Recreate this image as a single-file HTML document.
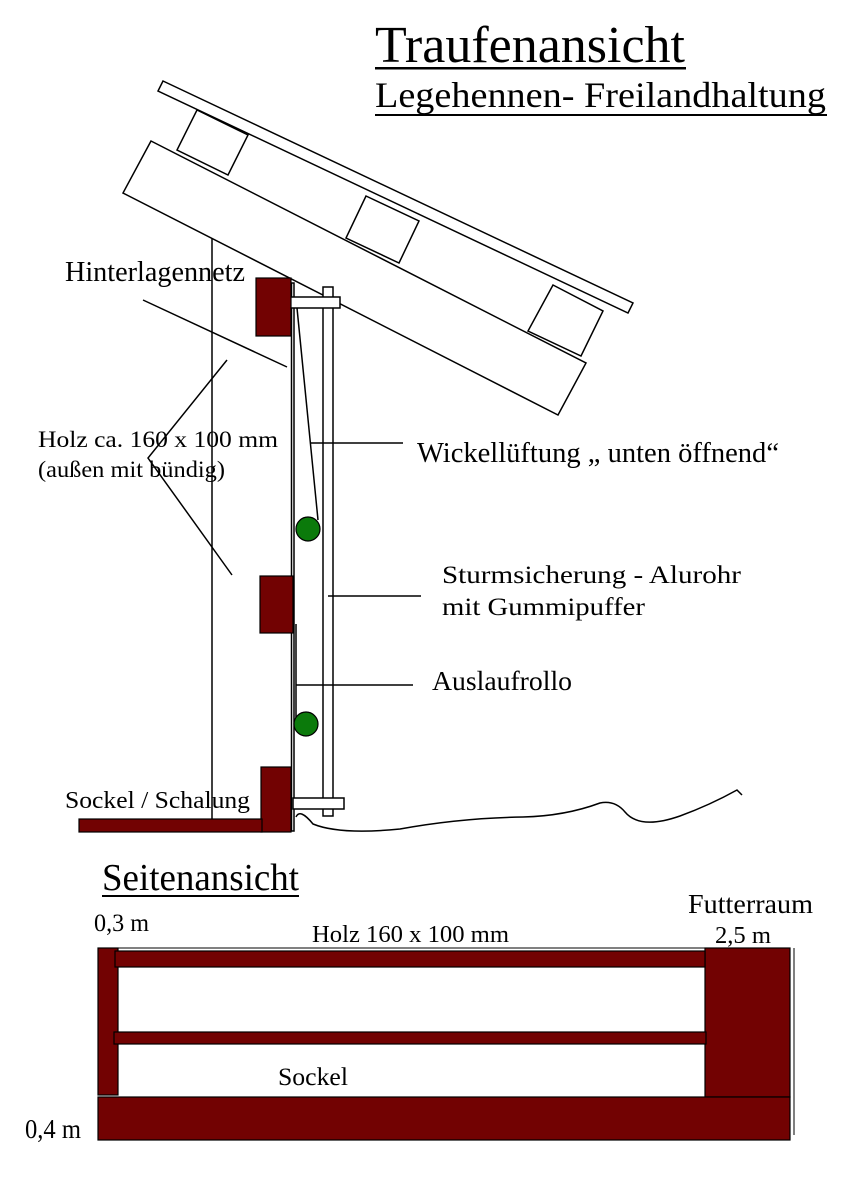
<!DOCTYPE html>
<html><head><meta charset="utf-8"><style>
html,body{margin:0;padding:0;background:#fff;}
svg{display:block;}
text{font-family:"Liberation Serif",serif;fill:#000;}
</style></head><body>
<svg width="851" height="1204" viewBox="0 0 851 1204" xmlns="http://www.w3.org/2000/svg">
<g fill="none" stroke="#000" stroke-width="1.5">
<polygon points="163,81 633,303 628,313 158,91" fill="#fff"/>
<polygon points="151,141 586,363 558,415 123,193" fill="#fff"/>
<polygon points="197,110 248,135 228,175 177,150" fill="#fff"/>
<polygon points="366,196 419,221 399,263 346,238" fill="#fff"/>
<polygon points="553,285 603,311 581,356 528,331" fill="#fff"/>
<line x1="212" y1="238" x2="212" y2="820"/>
<rect x="291.5" y="283" width="2.5" height="548" fill="#fff"/>
<rect x="323" y="287" width="10" height="529" fill="#fff"/>
<rect x="290" y="297" width="50" height="11" fill="#fff"/>
<rect x="293" y="798" width="51" height="11" fill="#fff"/>
<line x1="297" y1="308" x2="318" y2="520"/>
<line x1="296" y1="624" x2="296" y2="730"/>
<line x1="143" y1="300" x2="287" y2="367"/>
<polyline points="227,360 148,458 232,575"/>
<line x1="310" y1="443" x2="403" y2="443"/>
<line x1="328" y1="596" x2="421" y2="596"/>
<line x1="296" y1="685" x2="413" y2="685"/>
<path d="M296,817 Q300,808 313,824 Q340,835 400,829 Q460,818 523,817 Q565,816 600,803 Q615,800 625,812 Q640,830 680,816 Q710,805 737,790 L742,795"/>
</g>
<g fill="#720202" stroke="#000" stroke-width="1.2">
<rect x="256" y="278" width="35" height="58"/>
<rect x="260" y="576" width="33" height="57"/>
<rect x="261" y="767" width="30" height="65"/>
<rect x="79" y="819" width="183" height="13"/>
</g>
<g fill="#0b7a0b" stroke="#000" stroke-width="1.2">
<circle cx="308" cy="529" r="12"/>
<circle cx="306" cy="724" r="12"/>
</g>
<text x="375" y="62" font-size="52" textLength="310" lengthAdjust="spacingAndGlyphs">Traufenansicht</text>
<rect x="375" y="67" width="311" height="2.5"/>
<text x="375" y="107" font-size="36" textLength="451" lengthAdjust="spacingAndGlyphs">Legehennen- Freilandhaltung</text>
<rect x="375" y="114" width="452" height="2"/>
<text x="65" y="281" font-size="28" textLength="180" lengthAdjust="spacingAndGlyphs">Hinterlagennetz</text>
<text x="38" y="447" font-size="23" textLength="240" lengthAdjust="spacingAndGlyphs">Holz  ca. 160 x 100 mm</text>
<text x="38" y="477" font-size="23" textLength="187" lengthAdjust="spacingAndGlyphs">(außen mit bündig)</text>
<text x="417" y="462" font-size="28" textLength="362" lengthAdjust="spacingAndGlyphs">Wickellüftung „ unten öffnend“</text>
<text x="442" y="583" font-size="25" textLength="299" lengthAdjust="spacingAndGlyphs">Sturmsicherung - Alurohr</text>
<text x="442" y="615" font-size="25" textLength="203" lengthAdjust="spacingAndGlyphs">mit Gummipuffer</text>
<text x="432" y="690" font-size="27" textLength="140" lengthAdjust="spacingAndGlyphs">Auslaufrollo</text>
<text x="65" y="808" font-size="24" textLength="185" lengthAdjust="spacingAndGlyphs">Sockel  / Schalung</text>
<text x="102" y="890" font-size="38" textLength="197" lengthAdjust="spacingAndGlyphs">Seitenansicht</text>
<rect x="102" y="895" width="197" height="2"/>
<text x="94" y="931" font-size="25" textLength="55" lengthAdjust="spacingAndGlyphs">0,3 m</text>
<text x="312" y="942" font-size="24" textLength="197" lengthAdjust="spacingAndGlyphs">Holz 160 x 100 mm</text>
<text x="688" y="913" font-size="27" textLength="125" lengthAdjust="spacingAndGlyphs">Futterraum</text>
<text x="715" y="943" font-size="24" textLength="56" lengthAdjust="spacingAndGlyphs">2,5 m</text>
<text x="278" y="1085" font-size="25" textLength="70" lengthAdjust="spacingAndGlyphs">Sockel</text>
<text x="25" y="1138" font-size="27" textLength="56" lengthAdjust="spacingAndGlyphs">0,4 m</text>
<line x1="794" y1="948" x2="794" y2="1135" stroke="#000" stroke-width="1"/>
<g fill="#720202" stroke="#000" stroke-width="1.2">
<rect x="98" y="948" width="20" height="147"/>
<rect x="705" y="948" width="85" height="149"/>
<rect x="98" y="1097" width="692" height="43"/>
<rect x="115" y="951" width="590" height="16"/>
<rect x="114" y="1032" width="592" height="12"/>
</g>
<line x1="118" y1="948" x2="705" y2="948" stroke="#000" stroke-width="1"/>
</svg>
</body></html>
